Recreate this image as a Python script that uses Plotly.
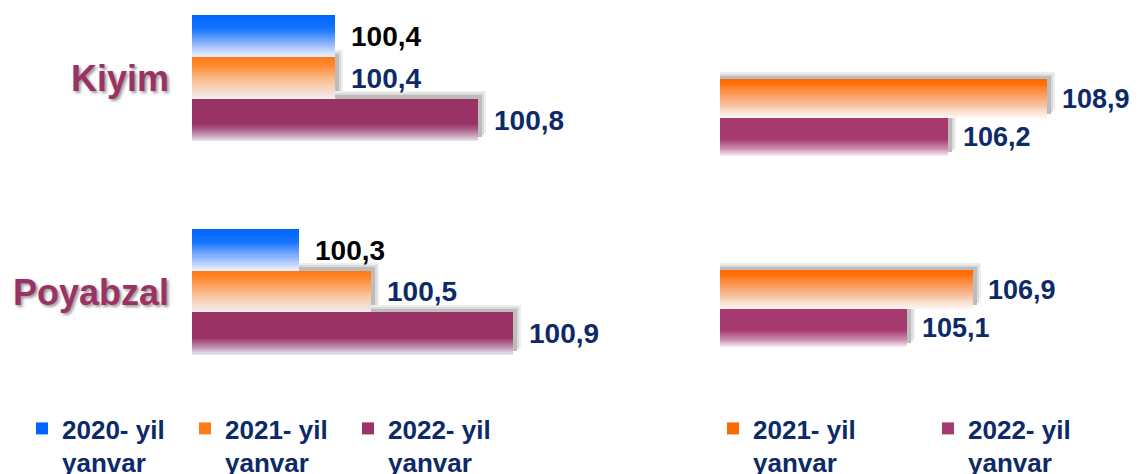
import plotly.graph_objects as go

# page body has an 8px margin, so the figure is shifted by that much
PAD = 8
W, H = 1139 - PAD, 474 - PAD

categories = ["Kiyim", "Poyabzal"]

# left panel: index vs December of previous year
left_names = ["2020- yil<br>yanvar", "2021- yil<br>yanvar", "2022- yil<br>yanvar"]
left_2020 = [100.4, 100.3]
left_2021 = [100.4, 100.5]
left_2022 = [100.8, 100.9]

# right panel: index vs same month of previous year
right_names = ["2021- yil<br>yanvar", "2022- yil<br>yanvar"]
right_2021 = [108.9, 106.9]
right_2022 = [106.2, 105.1]

NAVY = "#0d2a68"
FONT = "Liberation Sans, Arial, sans-serif"


def fx(p):
    return (p - PAD) / W


def fy(p):
    return 1 - (p - PAD) / H


def hex2rgb(h):
    h = h.lstrip("#")
    return [int(h[i:i + 2], 16) for i in (0, 2, 4)]


def grad_color(stops, t):
    for (t0, c0), (t1, c1) in zip(stops, stops[1:]):
        if t0 <= t <= t1:
            a, b = hex2rgb(c0), hex2rgb(c1)
            f = 0 if t1 == t0 else (t - t0) / (t1 - t0)
            r = [round(a[i] + (b[i] - a[i]) * f) for i in range(3)]
            return f"rgb({r[0]},{r[1]},{r[2]})"
    return stops[-1][1]


fig = go.Figure()
pos = [0, 1]
N = 40


def add_series(vals, off, w, stops, name, xa, ya, legend, rank):
    # gradient built from stacked bars, shortest (darkest) drawn last
    for j in range(N - 1, -1, -1):
        col = grad_color(stops, (j + 0.5) / N)
        fig.add_trace(go.Bar(
            x=vals, y=pos, orientation="h", offset=off, width=w * (j + 1) / N,
            marker=dict(color=col if j else stops[0][1], line_width=0), opacity=1,
            xaxis=xa, yaxis=ya, hoverinfo="skip",
            name=name, showlegend=(j == 0), legend=legend, legendrank=rank))


def add_shadow(vals, off, w, px_x, px_y, xa, ya):
    for d, col in [(8, "#eeeeee"), (6, "#dadada"), (4, "#bcbcbc")]:
        fig.add_trace(go.Bar(
            x=[v + d / px_x for v in vals], y=pos, orientation="h",
            offset=off - d / px_y, width=w, marker=dict(color=col, line_width=0),
            xaxis=xa, yaxis=ya, hoverinfo="skip", showlegend=False))


# left panel geometry
LPX, LPY = 357.0, 213.5
lw = 0.195
l_off = [-0.293, -0.098, 0.098]
l_vals = [left_2020, left_2021, left_2022]
l_stops = [
    [(0, "#0066ff"), (0.3, "#1473ff"), (0.75, "#a9c5fa"), (1, "#f4f6ff")],
    [(0, "#ff7a18"), (0.15, "#ff8428"), (0.6, "#f9c6a0"), (1, "#f2eef4")],
    [(0, "#993366"), (0.6, "#993366"), (0.85, "#c49ab6"), (1, "#e6e6f2")],
]
label_colors = ["#000000", NAVY, NAVY]

# right panel geometry
RPX, RPY = 36.7, 191.0
rw = 0.2
r_off = [-0.2, 0.0]
r_vals = [right_2021, right_2022]
r_stops = [
    [(0, "#ff6a00"), (0.12, "#ff7410"), (0.6, "#f5ba96"), (1, "#fff8f4")],
    [(0, "#a63a6e"), (0.55, "#a63a6e"), (0.85, "#d3a1bd"), (1, "#f8eef4")],
]

for k in (1, 2):
    add_shadow(l_vals[k], l_off[k], lw, LPX, LPY, "x", "y")
for k in range(2):
    add_shadow(r_vals[k], r_off[k], rw, RPX, RPY, "x2", "y2")

for k in range(3):
    add_series(l_vals[k], l_off[k], lw, l_stops[k], left_names[k], "x", "y", "legend", k)
for k in range(2):
    add_series(r_vals[k], r_off[k], rw, r_stops[k], right_names[k], "x2", "y2", "legend2", k)

ann = []
for k in range(3):
    for i, v in enumerate(l_vals[k]):
        ann.append(dict(x=v, y=pos[i] + l_off[k] + lw / 2, xref="x", yref="y",
                        text=f"{v:.1f}".replace(".", ","), showarrow=False,
                        xanchor="left", xshift=14,
                        font=dict(size=28, color=label_colors[k], family=FONT, weight="bold")))
for k in range(2):
    for i, v in enumerate(r_vals[k]):
        ann.append(dict(x=v, y=pos[i] + r_off[k] + rw / 2, xref="x2", yref="y2",
                        text=f"{v:.1f}".replace(".", ","), showarrow=False,
                        xanchor="left", xshift=13,
                        font=dict(size=27, color=NAVY, family=FONT, weight="bold")))

dom_y = [fy(400), 1]
fig.update_layout(
    width=W, height=H, margin=dict(l=0, r=0, t=0, b=0, autoexpand=False),
    paper_bgcolor="white", plot_bgcolor="rgba(0,0,0,0)",
    barmode="overlay", bargap=0,
    annotations=ann,
    xaxis=dict(domain=[fx(192), fx(192 + LPX)], range=[100, 101], visible=False),
    yaxis=dict(domain=dom_y, range=[(400 - 78.5) / LPY, (PAD - 78.5) / LPY],
               tickvals=pos, ticktext=categories, showgrid=False, zeroline=False,
               showline=False, ticks="", ticklabelstandoff=22,
               tickfont=dict(size=36, color="#993366", family=FONT, weight="bold",
                             shadow="2px 2px 3px #9a9a9a")),
    xaxis2=dict(domain=[fx(720), fx(720 + RPX * 11)], range=[100, 111], visible=False),
    yaxis2=dict(domain=dom_y, range=[(400 - 118) / RPY, (PAD - 118) / RPY], anchor="x2",
                showticklabels=False, showgrid=False, zeroline=False, showline=False),
    legend=dict(x=fx(22), y=fy(405), xanchor="left", yanchor="top",
                orientation="h", valign="top", entrywidth=118, traceorder="normal",
                font=dict(size=26, color=NAVY, family=FONT, weight="bold"),
                bgcolor="rgba(0,0,0,0)"),
    legend2=dict(x=fx(713), y=fy(405), xanchor="left", yanchor="top",
                 orientation="h", valign="top", entrywidth=170, traceorder="normal",
                 font=dict(size=26, color=NAVY, family=FONT, weight="bold"),
                 bgcolor="rgba(0,0,0,0)"),
)

fig.write_html("out.html")
